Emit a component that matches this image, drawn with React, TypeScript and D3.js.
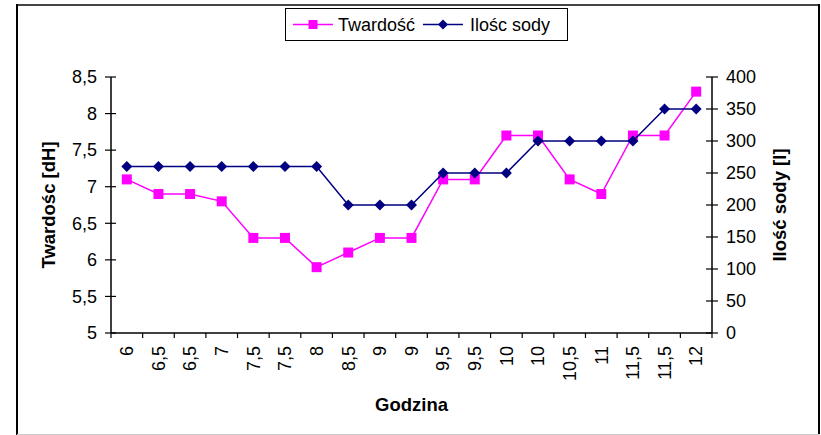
import React from "react";
import * as d3 from "d3";

const categories = ["6", "6,5", "6,5", "7", "7,5", "7,5", "8", "8,5", "9", "9", "9,5", "9,5", "10", "10", "10,5", "11", "11,5", "11,5", "12"];
const twardosc = [7.1, 6.9, 6.9, 6.8, 6.3, 6.3, 5.9, 6.1, 6.3, 6.3, 7.1, 7.1, 7.7, 7.7, 7.1, 6.9, 7.7, 7.7, 8.3];
const iloscSody = [260, 260, 260, 260, 260, 260, 260, 200, 200, 200, 250, 250, 250, 300, 300, 300, 300, 350, 350];
const leftTicks = [5, 5.5, 6, 6.5, 7, 7.5, 8, 8.5];
const rightTicks = [0, 50, 100, 150, 200, 250, 300, 350, 400];

const W = 821, H = 435;
const FONT = "'Liberation Sans', Arial, sans-serif";
const PINK = "#FF00FF";
const NAVY = "#000080";

export default function App() {
  const x0 = 111, x1 = 712, yTop = 77, yBot = 333;
  const idx = categories.map((_, i) => String(i));
  const x = d3.scaleBand().domain(idx).range([x0, x1]).paddingInner(0).paddingOuter(0);
  const yL = d3.scaleLinear().domain([5, 8.5]).range([yBot, yTop]);
  const yR = d3.scaleLinear().domain([0, 400]).range([yBot, yTop]);
  const cx = (i: number) => (x(String(i)) as number) + x.bandwidth() / 2;

  const lineL = d3.line<number>().x((_, i) => cx(i)).y((d) => yL(d));
  const lineR = d3.line<number>().x((_, i) => cx(i)).y((d) => yR(d));

  const fmt = (v: number) => String(v).replace(".", ",");
  const boundaries = d3.range(categories.length + 1).map((i) => x0 + i * x.bandwidth());

  const sq = 10;
  const dia = (px: number, py: number, r: number) => `M${px},${py - r}L${px + r},${py}L${px},${py + r}L${px - r},${py}Z`;

  return (
    <svg width={W} height={H} style={{ position: "absolute", left: 0, top: 0, background: "#fff" }} fontFamily={FONT}>
      {/* frame */}
      <line x1={17} y1={5} x2={820} y2={5} stroke="#444" strokeWidth={2} />
      <line x1={17} y1={4} x2={17} y2={435} stroke="#000" strokeWidth={2} />
      <line x1={819} y1={4} x2={819} y2={435} stroke="#000" strokeWidth={2} />
      <line x1={17} y1={434.5} x2={820} y2={434.5} stroke="#ccc" strokeWidth={1} />

      {/* left axis */}
      <line x1={x0} y1={yTop} x2={x0} y2={yBot} stroke="#000" strokeWidth={1.5} />
      {leftTicks.map((t) => (
        <g key={"l" + t}>
          <line x1={x0 - 6} x2={x0 + 5} y1={yL(t)} y2={yL(t)} stroke="#000" strokeWidth={1.2} />
          <text x={97} y={yL(t)} dy="0.35em" textAnchor="end" fontSize={18}>{fmt(t)}</text>
        </g>
      ))}
      {/* right axis */}
      <line x1={x1} y1={yTop} x2={x1} y2={yBot} stroke="#000" strokeWidth={1.5} />
      {rightTicks.map((t) => (
        <g key={"r" + t}>
          <line x1={x1 - 6} x2={x1 + 6} y1={yR(t)} y2={yR(t)} stroke="#000" strokeWidth={1.2} />
          <text x={726} y={yR(t)} dy="0.35em" textAnchor="start" fontSize={18}>{t}</text>
        </g>
      ))}
      {/* x axis */}
      <line x1={x0} y1={yBot} x2={x1} y2={yBot} stroke="#000" strokeWidth={1.5} />
      {boundaries.map((b, i) => (
        <line key={"xt" + i} x1={b} x2={b} y1={yBot} y2={yBot + 5} stroke="#000" strokeWidth={1.2} />
      ))}
      {categories.map((c, i) => (
        <text key={"xl" + i} transform={`translate(${cx(i)},346) rotate(-90)`} dy="0.35em" textAnchor="end" fontSize={18}>{c}</text>
      ))}

      {/* axis titles */}
      <text transform={`translate(55,${(yTop + yBot) / 2}) rotate(-90)`} textAnchor="middle" fontSize={18.5} fontWeight="bold">Twardośc [dH]</text>
      <text transform={`translate(786,${(yTop + yBot) / 2}) rotate(-90)`} textAnchor="middle" fontSize={18.5} fontWeight="bold">Ilość sody [l]</text>
      <text x={(x0 + x1) / 2} y={411} textAnchor="middle" fontSize={18.5} fontWeight="bold">Godzina</text>

      {/* series */}
      <path d={lineL(twardosc) || ""} fill="none" stroke={PINK} strokeWidth={1.5} />
      {twardosc.map((v, i) => (
        <rect key={"p" + i} x={cx(i) - sq / 2} y={yL(v) - sq / 2} width={sq} height={sq} fill={PINK} />
      ))}
      <path d={lineR(iloscSody) || ""} fill="none" stroke={NAVY} strokeWidth={1.5} />
      {iloscSody.map((v, i) => (
        <path key={"n" + i} d={dia(cx(i), yR(v), 5.5)} fill={NAVY} />
      ))}

      {/* legend */}
      <rect x={285.5} y={8.5} width={282} height={32} fill="#fff" stroke="#000" strokeWidth={1} />
      <line x1={293} x2={333} y1={24.5} y2={24.5} stroke={PINK} strokeWidth={1.5} />
      <rect x={313 - 4.5} y={24.5 - 4.5} width={9} height={9} fill={PINK} />
      <text x={338} y={24.5} dy="0.35em" fontSize={18}>Twardość</text>
      <line x1={423} x2={463} y1={24.5} y2={24.5} stroke={NAVY} strokeWidth={1.5} />
      <path d={dia(443, 24.5, 5)} fill={NAVY} />
      <text x={470} y={24.5} dy="0.35em" fontSize={18}>Ilośc sody</text>
    </svg>
  );
}
